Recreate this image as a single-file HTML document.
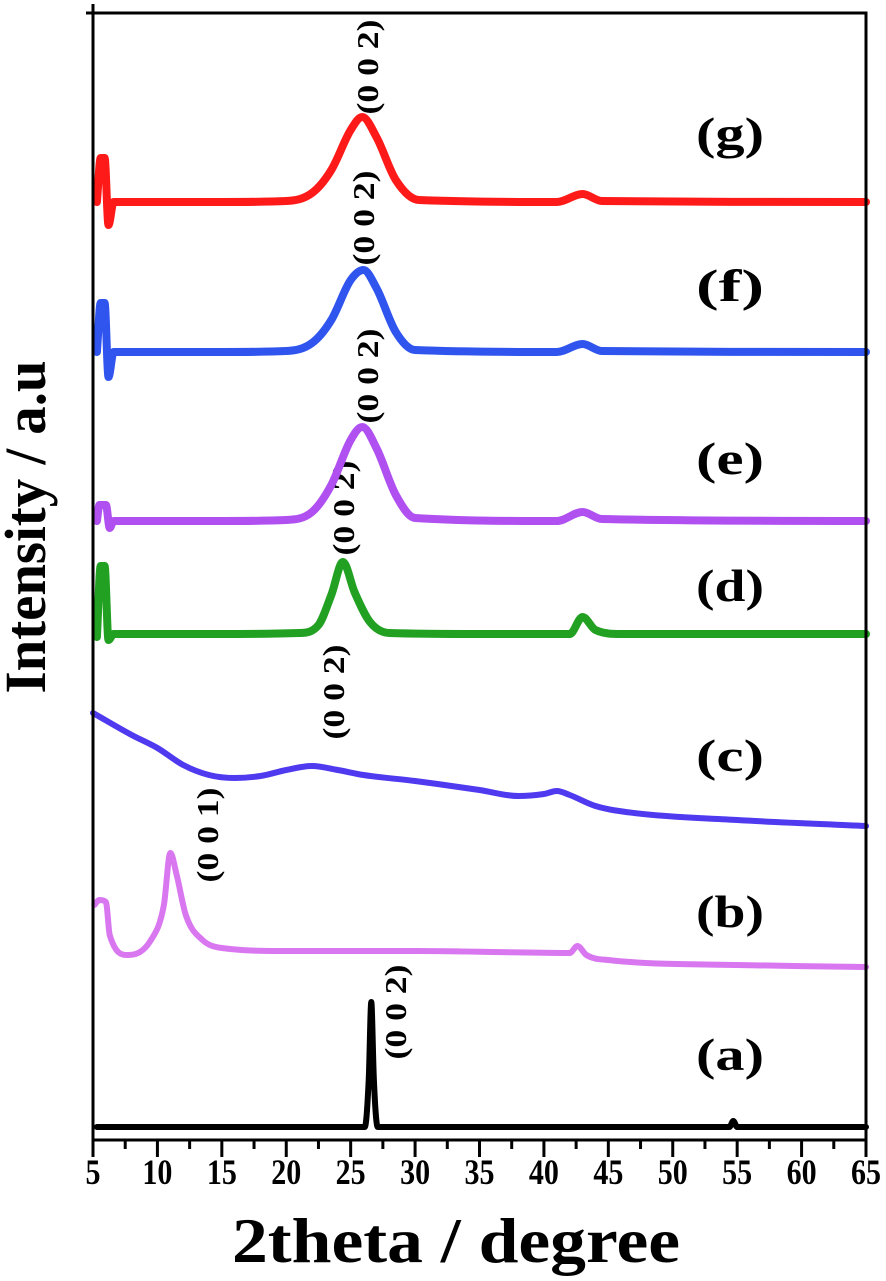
<!DOCTYPE html>
<html><head><meta charset="utf-8"><style>
html,body{margin:0;padding:0;background:#fff;}
svg{display:block;font-family:"Liberation Serif",serif;font-weight:bold;}
</style></head><body>
<svg id="chart" width="886" height="1281" viewBox="0 0 886 1281" xmlns="http://www.w3.org/2000/svg">
<g id="plot"></g>
</svg>
<script>
// x-axis ticks
const xTicks = [5,10,15,20,25,30,35,40,45,50,55,60,65];
const xMinor = [7.5,12.5,17.5,22.5,27.5,32.5,37.5,42.5,47.5,52.5,57.5,62.5];
// series (2theta, intensity in arbitrary units, offsets included)
const seriesNames = ["(a)","(b)","(c)","(d)","(e)","(f)","(g)"];
const seriesColors = ["#000000","#d977f0","#4f3af0","#22a022","#b050f0","#2f55ee","#ff1a1a"];
const xA = [5.3,20,26.1,26.4,26.6,26.8,27.1,40,54.4,54.7,55.0,65];
const yA = [13,13,13,60,138,60,13,13,13,19,13,13];
const xB = [5.1,5.5,6.0,6.3,7.7,9.5,10.5,11,11.5,12.2,13.5,15,20,30,42,42.6,43.3,45,55,65];
const yB = [235,240,238,205,185,200,235,287,265,225,200,192,189,189,187,194,185,180,175,173];
const xC = [5,8,10,12,14,16,18,20,22,24,26,30,35,38,40,41,42,44,47,55,65];
const yC = [427,405,392,375,365,362,364,370,374,370,365,359,350,344,346,349,345,334,327,320,314];
const xD = [5.3,5.6,5.9,6.2,6.6,15,21,22.5,23.5,24.4,25.3,26.5,28,35,42,43,44,46,65];
const yD = [503,574,574,500,506,506,507,515,545,578,548,518,507,506,506,523,510,506,506];
const xE = [5.3,5.5,6.0,6.3,6.6,15,20,22,23.5,25,25.9,27,28.5,30,41,43,44.5,65];
const yE = [619,635,635,612,619,619,620,628,655,700,713,692,645,622,619,628,621,619];
const xF = [5.3,5.6,5.9,6.2,6.6,15,20,22,23.5,25,26,27,28.5,30,41,43,44.5,65];
const yF = [788,837,837,763,788,788,789,797,820,860,870,852,808,790,788,796,789,788];
const xG = [5.3,5.6,5.9,6.2,6.6,15,20,22,23.5,25,25.9,27,28.5,30.3,41,43,44.5,65];
const yG = [938,982,982,915,938,938,939,947,970,1010,1023,1003,960,940,938,946,939,938];
// peak annotations (series a..g)
const peakText = ["(0 0 2)","(0 0 1)","(0 0 2)","(0 0 2)","(0 0 2)","(0 0 2)","(0 0 2)"];
const peakX = [28.44,13.85,23.63,24.40,26.27,25.96,26.27];
const peakY = [1012,835,692,508,376,218,67];
const labelY = [1054,911,755,585,458,285,133];

const X0=93, X1=866, Y0=1140, Y1=0;
function xs(v){return X0+(v-5)/60*(X1-X0);}
function ys(v){return Y0-(v/1140)*(Y0-Y1);}
const NS="http://www.w3.org/2000/svg";
const plot=document.getElementById('plot');
function mk(tag,attrs,parent){const e=document.createElementNS(NS,tag);for(const k in attrs)e.setAttribute(k,attrs[k]);(parent||plot).appendChild(e);return e;}
function pathFor(xv,yv){
  const p=xv.map((x,i)=>[xs(x),ys(yv[i])]);
  const n=p.length, d=[], m=new Array(n);
  for(let i=0;i<n-1;i++) d.push((p[i+1][1]-p[i][1])/(p[i+1][0]-p[i][0]));
  m[0]=d[0]; m[n-1]=d[n-2];
  for(let i=1;i<n-1;i++){ m[i]=(d[i-1]*d[i]<=0)?0:(d[i-1]+d[i])/2; }
  for(let i=0;i<n-1;i++){
    if(d[i]===0){m[i]=0;m[i+1]=0;continue;}
    const a=m[i]/d[i], b=m[i+1]/d[i], s=a*a+b*b;
    if(s>9){const t=3/Math.sqrt(s);m[i]=t*a*d[i];m[i+1]=t*b*d[i];}
  }
  let s="M"+p[0][0].toFixed(1)+","+p[0][1].toFixed(1);
  for(let i=0;i<n-1;i++){
    const h=(p[i+1][0]-p[i][0])/3;
    s+="C"+(p[i][0]+h).toFixed(1)+","+(p[i][1]+m[i]*h).toFixed(1)+" "+(p[i+1][0]-h).toFixed(1)+","+(p[i+1][1]-m[i+1]*h).toFixed(1)+" "+p[i+1][0].toFixed(1)+","+p[i+1][1].toFixed(1);
  }
  return s;
}
const allX=[xA,xB,xC,xD,xE,xF,xG], allY=[yA,yB,yC,yD,yE,yF,yG];
const widths=[6,6,6,8,8,8,8];
const keys=["a","b","c","d","e","f","g"];
for(let s=0;s<7;s++){
  const p=mk('path',{d:pathFor(allX[s],allY[s]),fill:'none',stroke:seriesColors[s],'stroke-width':widths[s],'stroke-linejoin':'round','stroke-linecap':'round'});
  
  
  const t=mk('text',{x:730,y:labelY[s]+16,'font-size':46,'text-anchor':'middle',fill:'#000',textLength:68,lengthAdjust:'spacingAndGlyphs'});
  t.textContent=seriesNames[s];
  
  
  const px=xs(peakX[s]), py=peakY[s];
  const a=mk('text',{x:0,y:0,'font-size':31,'text-anchor':'middle',fill:'#000',textLength:95,lengthAdjust:'spacingAndGlyphs',transform:'translate('+(px+11).toFixed(1)+','+py+') rotate(-90)'});
  a.textContent=peakText[s];
  
  
}
// frame
const fr=mk('path',{d:`M${X0},4 L${X0},${Y0} L${X1},${Y0} L${X1},13 L86,13`,fill:'none',stroke:'#000','stroke-width':3});


for(const v of xTicks){
  const l=mk('line',{x1:xs(v),x2:xs(v),y1:Y0,y2:Y0+17,stroke:'#000','stroke-width':3});
  
  
  const t=mk('text',{x:xs(v),y:1184,'font-size':36,'text-anchor':'middle',fill:'#000',textLength:String(v).length*15,lengthAdjust:'spacingAndGlyphs'});
  t.textContent=v;
  
  
}
for(const v of xMinor){
  const l=mk('line',{x1:xs(v),x2:xs(v),y1:Y0,y2:Y0+9,stroke:'#000','stroke-width':3});
  
  
}
const xt=mk('text',{x:456,y:1262,'font-size':64,'text-anchor':'middle',fill:'#000',textLength:448,lengthAdjust:'spacingAndGlyphs'});
xt.textContent='2theta / degree';


const yt=mk('text',{x:0,y:0,'font-size':58,'text-anchor':'middle',fill:'#000',textLength:333,lengthAdjust:'spacingAndGlyphs',transform:'translate(45,527) rotate(-90)'});
yt.textContent='Intensity / a.u';


</script>
</body></html>
